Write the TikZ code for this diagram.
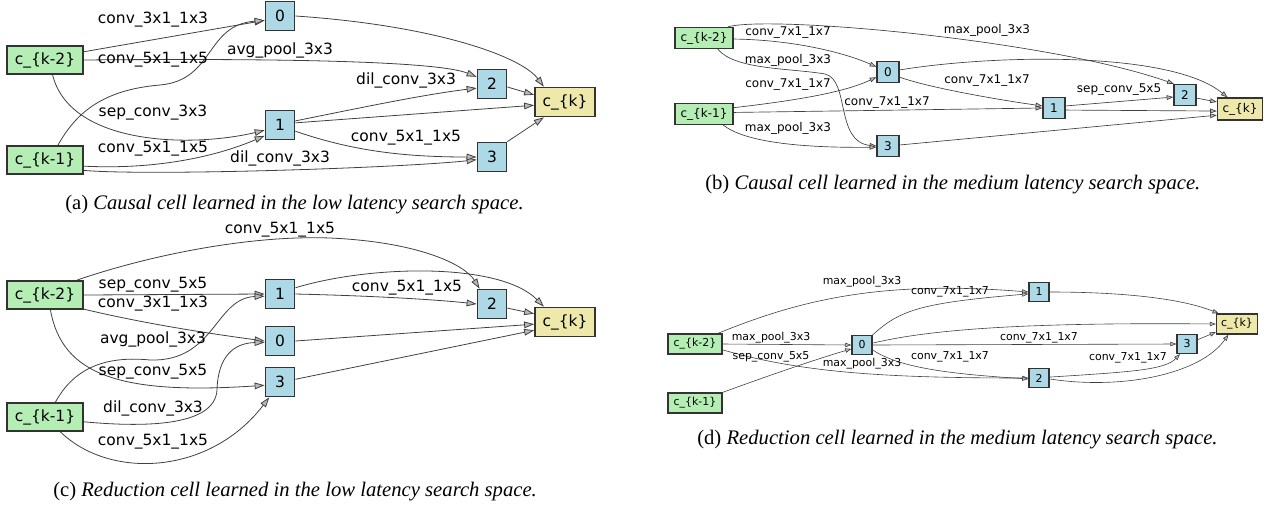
\documentclass[tikz,border=0pt]{standalone}
\usepackage{fontspec}
\setmainfont{Liberation Serif}
\newfontfamily\dvs{DejaVu Sans}
\usepackage{tikz}
\usetikzlibrary{arrows.meta}

\definecolor{dsgreen}{HTML}{B4EEB4}
\definecolor{lblue}{HTML}{ADD8E6}
\definecolor{pgold}{HTML}{EEE8AA}

\newcommand{\lowfnt}{\dvs\fontsize{11.6}{13}\selectfont}
\newcommand{\medfnt}{\dvs\fontsize{9}{10.5}\selectfont}
\newcommand{\redfnt}{\dvs\fontsize{8.2}{9.5}\selectfont}
\newcommand{\capfnt}{\fontsize{15.5}{18}\selectfont}

\tikzset{
	inp/.style={draw=black!80, fill=dsgreen, inner sep=0pt},
	mid/.style={draw=black!80, fill=lblue, inner sep=0pt},
	outp/.style={draw=black!80, fill=pgold, inner sep=0pt},
	lbl/.style={inner sep=0pt},
	captext/.style={anchor=west, inner sep=0pt, font=\capfnt},
	lowcell/.style={every node/.append style={font=\lowfnt},
		inp/.append style={minimum width=57pt, minimum height=21pt, line width=1.3pt},
		mid/.append style={minimum width=21.75pt, minimum height=21.75pt, line width=1.3pt},
		outp/.append style={minimum width=45pt, minimum height=21.75pt, line width=1.3pt},
		edge/.style={draw=black!75, line width=0.6pt, -{Triangle[length=7.5pt, width=5pt, fill=gray!55]}}},
	medcell/.style={every node/.append style={font=\medfnt},
		inp/.append style={minimum width=43.5pt, minimum height=15.75pt, line width=1pt},
		mid/.append style={minimum width=16.5pt, minimum height=15.75pt, line width=1pt},
		outp/.append style={minimum width=33.75pt, minimum height=16.5pt, line width=1pt},
		edge/.style={draw=black!75, line width=0.5pt, -{Triangle[length=5pt, width=3.6pt, fill=gray!55]}}},
	redcell/.style={every node/.append style={font=\redfnt},
		inp/.append style={minimum width=40.5pt, minimum height=15pt, line width=0.9pt},
		mid/.append style={minimum width=15pt, minimum height=14.25pt, line width=0.9pt},
		outp/.append style={minimum width=30.75pt, minimum height=15pt, line width=0.9pt},
		edge/.style={draw=black!75, line width=0.45pt, -{Triangle[length=4.6pt, width=3.3pt, fill=gray!55]}}}
}

\begin{document}
\begin{tikzpicture}[x=0.75pt,y=0.75pt,yscale=-1,xscale=1]
	\useasboundingbox (0,0) rectangle (1271,508);
	
	%Causal cell, low latency
	\begin{scope}[lowcell]
	\node[inp] (akm2) at (45,60) {c\_\{k-2\}};
	\node[inp] (akm1) at (45,160) {c\_\{k-1\}};
	\node[mid] (a0) at (280,16) {0};
	\node[mid] (a1) at (280,125) {1};
	\node[mid] (a2) at (492,84) {2};
	\node[mid] (a3) at (492,157) {3};
	\node[outp] (ak) at (565,102) {c\_\{k\}};
	%Edges
	\draw[edge] (akm2.12) -- (a0.196);
	\draw[edge] (akm2.east) .. controls (300,58) and (440,62) .. (a2.155);
	\draw[edge] (akm2.-63) .. controls (70,145) and (190,148) .. (a1.199);
	\draw[edge] (akm1.49) .. controls (75,115) and (100,90) .. (160,85) .. controls (215,80) and (205,25) .. (a0.196);
	\draw[edge] (akm1.-9) .. controls (160,170) and (220,155) .. (a1.215);
	\draw[edge] (akm1.-15) .. controls (150,176) and (400,168) .. (a3.190);
	\draw[edge] (a0.east) .. controls (430,25) and (520,55) .. (ak.144);
	\draw[edge] (a1.15) .. controls (350,110) and (420,95) .. (a2.195);
	\draw[edge] (a1.8) -- (ak.186);
	\draw[edge] (a1.-22) .. controls (350,150) and (400,157) .. (a3.west);
	\draw[edge] (a2.-11) -- (ak.167);
	\draw[edge] (a3.north east) -- (ak.216);
	% Text Node
	\node[lbl] (la1) at (153,20) {conv\_3x1\_1x3};
	\node[lbl] (la2) at (153,60) {conv\_5x1\_1x5};
	\node[lbl] (la3) at (280,50) {avg\_pool\_3x3};
	\node[lbl] (la4) at (153,113) {sep\_conv\_3x3};
	\node[lbl] (la5) at (153,149) {conv\_5x1\_1x5};
	\node[lbl] (la6) at (280,158) {dil\_conv\_3x3};
	\node[lbl] (la7) at (406,80) {dil\_conv\_3x3};
	\node[lbl] (la8) at (406,138) {conv\_5x1\_1x5};
	\end{scope}
	
	%Reduction cell, low latency
	\begin{scope}[lowcell]
	\node[inp] (ckm2) at (45,295) {c\_\{k-2\}};
	\node[inp] (ckm1) at (45,417) {c\_\{k-1\}};
	\node[mid] (c1) at (280,294) {1};
	\node[mid] (c0) at (280,341) {0};
	\node[mid] (c3) at (280,382) {3};
	\node[mid] (c2) at (492,304) {2};
	\node[outp] (ck) at (565,322) {c\_\{k\}};
	%Edges
	\draw[edge] (ckm2.25) .. controls (150,255) and (250,235) .. (330,238) .. controls (420,242) and (465,265) .. (c2.129);
	\draw[edge] (c1.22) .. controls (370,265) and (500,262) .. (ck.144);
	\draw[edge] (c1.east) .. controls (380,296) and (440,300) .. (c2.west);
	\draw[edge] (ckm2.east) -- (c1.west);
	\draw[edge] (ckm2.-20) .. controls (150,325) and (220,335) .. (c0.west);
	\draw[edge] (ckm1.55) .. controls (72,372) and (100,355) .. (150,360) .. controls (215,362) and (215,298) .. (c1.188);
	\draw[edge] (ckm2.-70) .. controls (62,375) and (120,395) .. (c3.192);
	\draw[edge] (ckm1.-7) .. controls (150,428) and (215,425) .. (217,390) .. controls (218,355) and (235,343) .. (c0.185);
	\draw[edge] (ckm1.-44) .. controls (110,480) and (210,475) .. (c3.235);
	\draw[edge] (c0.east) -- (ck.184);
	\draw[edge] (c3.10) -- (ck.195);
	\draw[edge] (c2.-15) -- (ck.165);
	% Text Node
	\node[lbl] (lc1) at (280,230) {conv\_5x1\_1x5};
	\node[lbl] (lc2) at (153,285) {sep\_conv\_5x5};
	\node[lbl] (lc3) at (153,304) {conv\_3x1\_1x3};
	\node[lbl] (lc4) at (153,339) {avg\_pool\_3x3};
	\node[lbl] (lc5) at (153,372) {sep\_conv\_5x5};
	\node[lbl] (lc6) at (153,408) {dil\_conv\_3x3};
	\node[lbl] (lc7) at (153,442) {conv\_5x1\_1x5};
	\node[lbl] (lc8) at (407,288) {conv\_5x1\_1x5};
	\end{scope}
	
	%Causal cell, medium latency
	\begin{scope}[medcell]
	\node[inp] (bkm2) at (704,38) {c\_\{k-2\}};
	\node[inp] (bkm1) at (704,114) {c\_\{k-1\}};
	\node[mid] (b0) at (888,72) {0};
	\node[mid] (b3) at (888,146) {3};
	\node[mid] (b1) at (1054,108) {1};
	\node[mid] (b2) at (1185,95) {2};
	\node[outp] (bk) at (1240,109) {c\_\{k\}};
	%Edges
	\draw[edge] (bkm2.25) .. controls (770,15) and (1050,40) .. (b2.135);
	\draw[edge] (b0.10) .. controls (990,55) and (1170,50) .. (bk.137);
	\draw[edge] (b0.-24) .. controls (930,88) and (1000,100) .. (b1.170);
	\draw[edge] (bkm1.3) -- (b1.west);
	\draw[edge] (bkm2.-2) .. controls (800,40) and (850,55) .. (b0.156);
	\draw[edge] (bkm1.12) .. controls (800,100) and (845,92) .. (b0.204);
	\draw[edge] (bkm2.-39) .. controls (735,70) and (790,68) .. (825,74) .. controls (850,80) and (835,142) .. (b3.west);
	\draw[edge] (bkm1.-30) .. controls (745,142) and (800,148) .. (b3.186);
	\draw[edge] (b3.5) -- (bk.195);
	\draw[edge] (b1.10) -- (b2.190);
	\draw[edge] (b1.-10) -- (bk.185);
	\draw[edge] (b2.-15) -- (bk.163);
	% Text Node
	\node[lbl] (lb1) at (788,33) {conv\_7x1\_1x7};
	\node[lbl] (lb2) at (788,60) {max\_pool\_3x3};
	\node[lbl] (lb3) at (788,85) {conv\_7x1\_1x7};
	\node[lbl] (lb4) at (788,128) {max\_pool\_3x3};
	\node[lbl] (lb5) at (887,103) {conv\_7x1\_1x7};
	\node[lbl] (lb6) at (987,30) {max\_pool\_3x3};
	\node[lbl] (lb7) at (987,81) {conv\_7x1\_1x7};
	\node[lbl] (lb8) at (1119,90) {sep\_conv\_5x5};
	\end{scope}
	
	%Reduction cell, medium latency
	\begin{scope}[redcell]
	\node[inp] (dkm2) at (695,344) {c\_\{k-2\}};
	\node[inp] (dkm1) at (695,403) {c\_\{k-1\}};
	\node[mid] (d0) at (862,345) {0};
	\node[mid] (d1) at (1039,292) {1};
	\node[mid] (d2) at (1039,378) {2};
	\node[mid] (d3) at (1187,344) {3};
	\node[outp] (dk) at (1237,324) {c\_\{k\}};
	%Edges
	\draw[edge] (dkm2.25) .. controls (800,300) and (880,280) .. (d1.west);
	\draw[edge] (d0.north east) .. controls (900,310) and (920,303) .. (d1.190);
	\draw[edge] (dkm2.east) -- (d0.west);
	\draw[edge] (dkm1.north east) .. controls (770,375) and (820,358) .. (d0.200);
	\draw[edge] (dkm2.-12) .. controls (800,372) and (880,378) .. (d2.west);
	\draw[edge] (d0.10) .. controls (920,332) and (1000,322) .. (dk.west);
	\draw[edge] (d0.east) -- (d3.west);
	\draw[edge] (d0.-25) .. controls (900,368) and (950,374) .. (d2.185);
	\draw[edge] (d2.5) .. controls (1130,372) and (1165,370) .. (d3.235);
	\draw[edge] (d2.-5) .. controls (1120,390) and (1200,375) .. (dk.231);
	\draw[edge] (d3.22) -- (dk.201);
	\draw[edge] (d1.east) .. controls (1120,292) and (1180,298) .. (dk.150);
	% Text Node
	\node[lbl] (ld1) at (862,282) {max\_pool\_3x3};
	\node[lbl] (ld2) at (950,292) {conv\_7x1\_1x7};
	\node[lbl] (ld3) at (771,338) {max\_pool\_3x3};
	\node[lbl] (ld4) at (771,357) {sep\_conv\_5x5};
	\node[lbl] (ld5) at (862,364) {max\_pool\_3x3};
	\node[lbl] (ld6) at (950,357) {conv\_7x1\_1x7};
	\node[lbl] (ld7) at (1039,338) {conv\_7x1\_1x7};
	\node[lbl] (ld8) at (1128,358) {conv\_7x1\_1x7};
	\end{scope}
	
	% Captions
	\node[captext] (capa) at (65,205) {(a) \textit{Causal cell learned in the low latency search space.}};
	\node[captext] (capb) at (705,185) {(b) \textit{Causal cell learned in the medium latency search space.}};
	\node[captext] (capc) at (53,492) {(c) \textit{Reduction cell learned in the low latency search space.}};
	\node[captext] (capd) at (697,440) {(d) \textit{Reduction cell learned in the medium latency search space.}};
\end{tikzpicture}
\end{document}
